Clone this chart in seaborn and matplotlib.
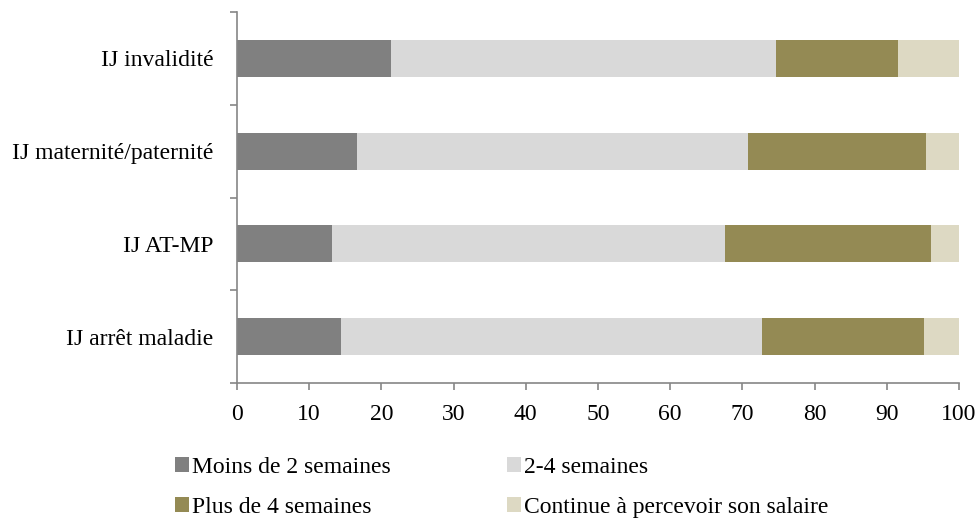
import matplotlib
matplotlib.use("Agg")
import matplotlib.pyplot as plt
from matplotlib.patches import Patch
import numpy as np
import pandas as pd
import seaborn as sns

categories = ["IJ invalidité", "IJ maternité/paternité", "IJ AT-MP", "IJ arrêt maladie"]
series_names = ["Moins de 2 semaines", "2-4 semaines", "Plus de 4 semaines",
                "Continue à percevoir son salaire"]
moins_2 = [21.3, 16.6, 13.2, 14.4]
de_2_a_4 = [53.3, 54.2, 54.4, 58.3]
plus_4 = [17.0, 24.6, 28.5, 22.5]
salaire = [8.4, 4.6, 3.9, 4.8]
colors = ["#808080", "#d9d9d9", "#948a54", "#ddd9c3"]
x_ticks = [0, 10, 20, 30, 40, 50, 60, 70, 80, 90, 100]

sns.set_style("white")
plt.rcParams["font.family"] = ["Liberation Serif", "DejaVu Serif"]
plt.rcParams["text.color"] = "black"

segments = np.array([moins_2, de_2_a_4, plus_4, salaire])
cumulative = np.cumsum(segments, axis=0)

fig = plt.figure(figsize=(9.8, 5.19), dpi=100)
ax = fig.add_axes([237 / 980, 1 - 383 / 519, (959 - 237) / 980, (383 - 12) / 519])

# stacked bars: draw the running totals from the longest down so each shorter one sits on top
for i in range(len(series_names) - 1, -1, -1):
    df = pd.DataFrame({"cat": categories, "val": cumulative[i]})
    sns.barplot(data=df, x="val", y="cat", orient="h", color=colors[i],
                width=0.4, saturation=1, ax=ax, edgecolor="none")

ax.set_xlim(0, 100)
ax.set_ylim(3.5, -0.5)
ax.set_xticks(x_ticks)
ax.set_xticklabels([str(t) for t in x_ticks])
ax.set_xlabel("")
ax.set_ylabel("")

ax.set_yticks(range(len(categories)))
ax.set_yticklabels(categories)
ax.set_yticks(np.arange(-0.5, len(categories), 1.0), minor=True)

axis_col = "#868686"
for side in ["top", "right"]:
    ax.spines[side].set_visible(False)
for side in ["left", "bottom"]:
    ax.spines[side].set_color(axis_col)
    ax.spines[side].set_linewidth(1.2)

fs = 17
ax.tick_params(axis="y", which="major", left=False, length=0, pad=17, labelsize=fs,
               labelcolor="black")
ax.tick_params(axis="y", which="minor", left=True, length=5, width=1.2, color=axis_col,
               direction="out")
ax.tick_params(axis="x", which="major", bottom=True, length=5, width=1.2, color=axis_col,
               direction="out", labelsize=fs, pad=10, labelcolor="black")

handles = [Patch(facecolor=c, edgecolor="none") for c in colors]
order = [0, 2, 1, 3]
fig.legend([handles[i] for i in order], [series_names[i] for i in order],
           ncol=2, loc="lower left", bbox_to_anchor=(161 / 980, -13 / 519),
           frameon=False, fontsize=fs, handlelength=0.6, handleheight=0.6,
           handletextpad=0.12, columnspacing=4.9, labelspacing=0.8, borderaxespad=0.2,
           labelcolor="black")

fig.savefig("out.png", dpi=100, facecolor="white")
